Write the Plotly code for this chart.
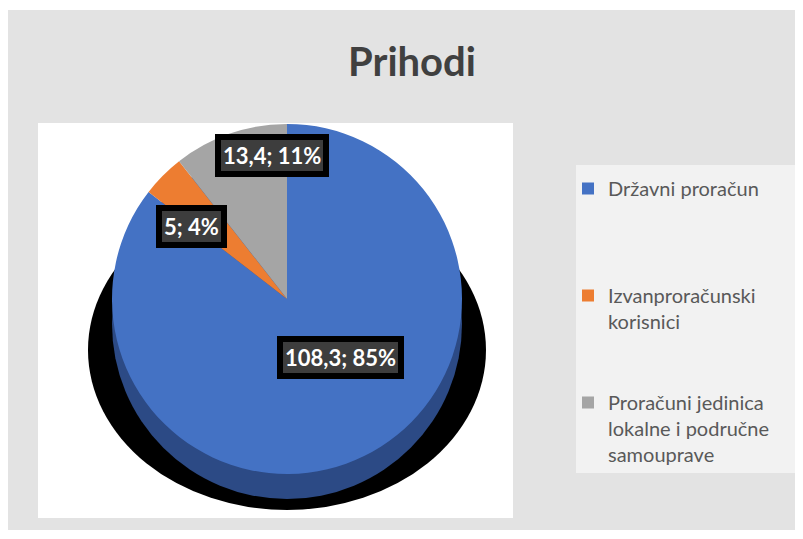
import plotly.graph_objects as go

# ---- data ----
categories = ["Državni proračun", "Izvanproračunski korisnici",
              "Proračuni jedinica lokalne i područne samouprave"]
legend_names = ["Državni proračun<br> <br> <br> ",
                "Izvanproračunski<br>korisnici<br> <br> ",
                "Proračuni jedinica<br>lokalne i područne<br>samouprave"]
values = [108.3, 5, 13.4]
colors = ["#4472C4", "#ED7D31", "#A5A5A5"]

W, H = 803, 539
def px(x): return x / W
def py(y): return 1 - y / H

total = sum(values)
value_txt = [f"{v:g}".replace(".", ",") for v in values]
pct_txt = [f"{round(v / total * 100)}%" for v in values]
label_txt = [f"{a}; {b}" for a, b in zip(value_txt, pct_txt)]

fig = go.Figure()
fig.add_trace(go.Pie(
    labels=legend_names,
    values=values,
    customdata=categories,
    marker=dict(colors=colors, line=dict(width=0)),
    sort=False,
    direction="clockwise",
    rotation=0,
    textinfo="none",
    hovertemplate="%{customdata}: %{value} (%{percent})<extra></extra>",
    domain=dict(x=[px(112), px(462)], y=[py(474), py(124)]),
))

shapes = [
    # outer gray background
    dict(type="rect", xref="paper", yref="paper", x0=px(8), x1=px(795), y0=py(530), y1=py(10),
         fillcolor="#e3e3e3", line=dict(width=0), layer="below"),
    # white plot area
    dict(type="rect", xref="paper", yref="paper", x0=px(38), x1=px(513), y0=py(518), y1=py(123),
         fillcolor="white", line=dict(width=0), layer="below"),
    # legend panel
    dict(type="rect", xref="paper", yref="paper", x0=px(576), x1=px(795), y0=py(473), y1=py(165),
         fillcolor="#f2f2f2", line=dict(width=0), layer="below"),
    # black shadow
    dict(type="circle", xref="paper", yref="paper", x0=px(88), x1=px(486), y0=py(510), y1=py(190),
         fillcolor="black", line=dict(width=0), layer="below"),
    # pie side (3D depth)
    dict(type="circle", xref="paper", yref="paper", x0=px(112), x1=px(462), y0=py(499), y1=py(149),
         fillcolor="#2c4a85", line=dict(width=0), layer="below"),
]

label_pos = [(340, 357), (191, 226), (272, 155)]
annotations = []
for txt, (x, y) in zip(label_txt, label_pos):
    annotations.append(dict(
        x=px(x), y=py(y), xref="paper", yref="paper", xanchor="center", yanchor="middle",
        text=f"<b>{txt}</b>", showarrow=False,
        font=dict(family="Lato", size=22, color="white"),
        bgcolor="#3d3d3d", bordercolor="black", borderwidth=6, borderpad=2,
    ))

fig.update_layout(
    width=W, height=H,
    margin=dict(l=0, r=0, t=0, b=0),
    paper_bgcolor="white",
    title=dict(text="<b>Prihodi</b>", x=px(412), y=py(62), xanchor="center", yanchor="middle",
               font=dict(family="Lato", size=40, color="#404040")),
    showlegend=True,
    legend=dict(x=px(568), y=py(169), xanchor="left", yanchor="top", valign="top",
                font=dict(family="Lato", size=20, color="#595959"),
                bgcolor="rgba(0,0,0,0)", tracegroupgap=0),
    shapes=shapes,
    annotations=annotations,
)

fig.write_html("out.html")
